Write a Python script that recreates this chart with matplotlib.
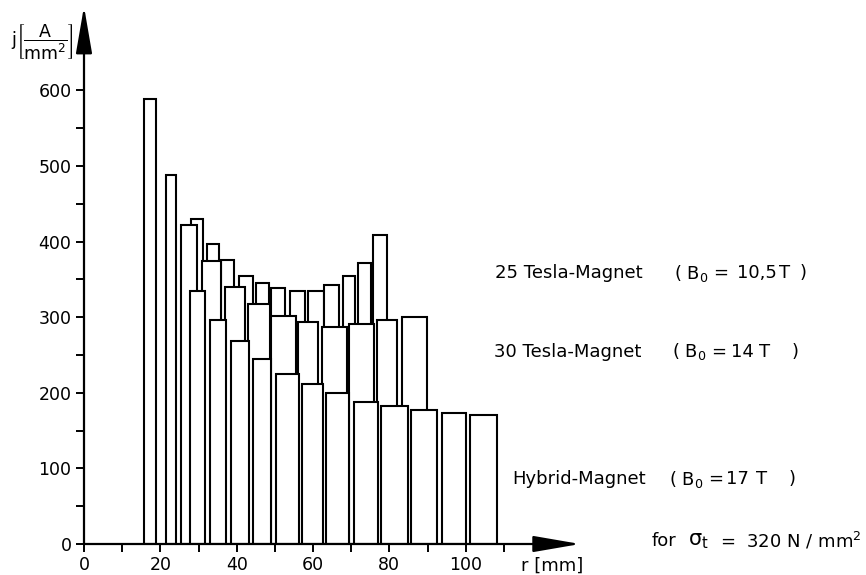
import matplotlib
matplotlib.use("Agg")
import matplotlib.pyplot as plt
from matplotlib.patches import Rectangle

plt.rcParams['font.family'] = ['DejaVu Sans']
plt.rcParams['mathtext.default'] = 'regular'

# coil sections: inner radius, outer radius [mm], current density [A/mm2]
# hybrid magnet (drawn in front)
r_hyb_in = [15.6, 21.4, 27.9, 32.9, 38.5, 44.3, 50.4, 57.0, 63.5, 70.8, 77.9, 85.6, 93.7, 101.0]
r_hyb_out = [18.8, 24.2, 31.8, 37.3, 43.3, 49.1, 56.2, 62.7, 69.5, 77.1, 84.9, 92.4, 100.1, 108.1]
j_hyb = [588, 488, 335, 296, 268, 245, 225, 212, 200, 188, 183, 177, 173, 171]

# 30 Tesla magnet (middle)
r_30_in = [25.4, 30.9, 37.0, 42.9, 48.9, 56.0, 62.4, 69.3, 76.8, 83.4]
r_30_out = [29.7, 35.9, 42.2, 48.6, 55.5, 61.4, 68.9, 76.0, 82.1, 89.8]
j_30 = [422, 374, 340, 318, 301, 293, 287, 291, 296, 300]

# 25 Tesla magnet (behind)
r_25_in = [28.0, 32.1, 35.8, 40.7, 45.1, 49.1, 53.9, 58.6, 62.9, 67.8, 71.9, 75.8]
r_25_out = [31.3, 35.4, 39.4, 44.4, 48.4, 52.7, 57.8, 62.8, 66.9, 71.0, 75.2, 79.4]
j_25 = [430, 397, 376, 355, 345, 338, 335, 335, 343, 354, 372, 409]

names = ["25 Tesla-Magnet", "30 Tesla-Magnet", "Hybrid-Magnet"]
b0_values = ["10,5", "14", "17"]

W, H = 866, 575
fig = plt.figure(figsize=(W / 100, H / 100), dpi=100)
# axes placed so that r=0 sits at x=84px and j=0 at y=544px
ax = fig.add_axes([84 / W, 31 / H, 516 / W, 544 / H])
ax.set_xlim(0, 516 / 3.817)
ax.set_ylim(0, 544 / 0.756)

def draw_bars(r_in, r_out, j, z):
    for a, b, h in zip(r_in, r_out, j):
        ax.add_patch(Rectangle((a, 0), b - a, h, facecolor='white',
                               edgecolor='black', lw=1.5, zorder=z))

draw_bars(r_25_in, r_25_out, j_25, 1)
draw_bars(r_30_in, r_30_out, j_30, 2)
draw_bars(r_hyb_in, r_hyb_out, j_hyb, 3)

for s in ax.spines.values():
    s.set_visible(False)

# axes with arrow heads
arr = dict(arrowstyle='-|>,head_length=2.9,head_width=0.5', color='black',
           lw=1.6, mutation_scale=10, shrinkA=0, shrinkB=0)
ax.annotate('', xy=(0, 711), xytext=(0, 0), arrowprops=arr, zorder=5)
ax.annotate('', xy=(130, 0), xytext=(0, 0), arrowprops=arr, zorder=5)

ax.set_xticks(range(0, 111, 10))
ax.set_xticklabels([str(v) if v % 20 == 0 else '' for v in range(0, 111, 10)])
ax.set_yticks(range(0, 601, 50))
ax.set_yticklabels([str(v) if v % 100 == 0 else '' for v in range(0, 601, 50)])
ax.tick_params(direction='out', length=6, width=1.4, labelsize=12.5, pad=3)

fig.text(11 / W, 1 - 41 / H, r"j$\left[\dfrac{A}{mm^2}\right]$", fontsize=12.5,
         va='center', ha='left')
fig.text(521 / W, 1 - 566 / H, "r [mm]", fontsize=13, va='center', ha='left')

# magnet labels, pieces placed like the hand lettering
rows_y = [273, 352, 479]
name_x = [495, 494, 512]
paren_x = [674, 672, 669]
eq_x = [713, 711, 708]
val_x = [737, 731, 726]
t_x = [779, 759, 756]
close_x = [800, 792, 789]
for i in range(3):
    y = 1 - rows_y[i] / H
    kw = dict(fontsize=13, va='center', ha='left')
    fig.text(name_x[i] / W, y, names[i], **kw)
    fig.text(paren_x[i] / W, y, "( B$_0$", **kw)
    fig.text(eq_x[i] / W, y, "=", **kw)
    fig.text(val_x[i] / W, y, b0_values[i], **kw)
    fig.text(t_x[i] / W, y, "T", **kw)
    fig.text(close_x[i] / W, y, ")", **kw)

fig.text(652 / W, 1 - 541 / H, "for", fontsize=13, va='center', ha='left')
fig.text(688 / W, 1 - 541 / H, r"$\sigma_t$", fontsize=15, va='center', ha='left')
fig.text(720 / W, 1 - 541 / H, "=  320 N / mm$^2$", fontsize=13,
         va='center', ha='left')

fig.savefig('out.png', dpi=100)
